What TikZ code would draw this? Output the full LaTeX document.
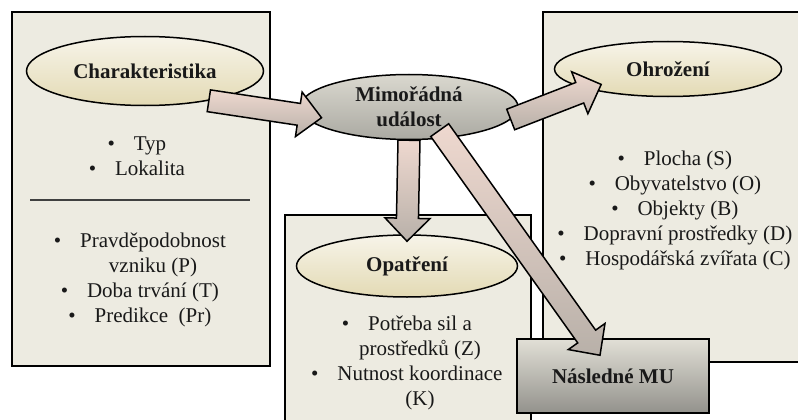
\documentclass[tikz,border=0pt]{standalone}
\usepackage{fontspec}
\setmainfont{Liberation Serif}
\usepackage{tikz}
\usetikzlibrary{calc,shapes.geometric,positioning}

\definecolor{paper}{HTML}{EDEBE1}
\definecolor{creamtop}{HTML}{F7F4E9}
\definecolor{creambot}{HTML}{E3DAB4}
\newcommand{\bul}{\llap{\textbullet\hspace{0.9em}}}
\newcommand{\blockarrow}[2]{%
  \coordinate (ba-s) at (#1);
  \coordinate (ba-t) at (#2);
  \coordinate (ba-h) at ($(ba-t)!23pt!(ba-s)$);
  \draw[barrow] ($(ba-s)!11pt!90:(ba-t)$) -- ($(ba-h)!11pt!-90:(ba-s)$)
    -- ($(ba-h)!22.5pt!-90:(ba-s)$) -- (ba-t) -- ($(ba-h)!22.5pt!90:(ba-s)$)
    -- ($(ba-h)!11pt!90:(ba-s)$) -- ($(ba-s)!11pt!-90:(ba-t)$) -- cycle;}

\begin{document}
\begin{tikzpicture}[x=1pt, y=-1pt, semithick,
    panel/.style={draw, line width=2pt, fill=paper},
    edge/.style={draw, line width=2pt, line cap=rect},
    txt/.style={align=center, text=black!90, font=\fontsize{21}{25}\selectfont},
    ell/.style={ellipse, draw, line width=1.5pt, inner sep=0pt, top color=creamtop, bottom color=creambot, text=black!90, font=\fontsize{21}{25}\selectfont\bfseries, align=center},
    barrow/.style={draw, line width=1.5pt, line join=miter, top color=red!8!paper, bottom color=red!10!black!25!paper}]

  \tikzstyle{mid}=[ell, top color=paper!92!black, bottom color=paper!72!black]
  \tikzstyle{boxed}=[rectangle, draw, line width=1.5pt, top color=paper!95!black, bottom color=paper!62!black, text=black!90, font=\fontsize{21}{25}\selectfont\bfseries]

  \useasboundingbox (0,0) rectangle (798,420);
  \draw[panel] (12,12) rectangle (270,366);
  \draw[line width=2pt, draw=black!75] (30,200) -- (250,200);
  \fill[paper] (285,215) rectangle (531,420);
  \draw[edge] (285,420) -- (285,215) -- (531,215) -- (531,420);
  \fill[paper] (543,12) rectangle (798,362);
  \draw[edge] (798,12) -- (543,12) -- (543,362) -- (798,362);

  \node[ell, minimum width=237pt, minimum height=69pt] (ch)  at (145,71)  {Charakteristika};
  \node[txt]                                           (chA) at (150,156) {\bul Typ\\ \bul Lokalita};
  \node[txt]                                           (chB) at (153,280) {\bul Pravděpodobnost\\ vzniku (P)\\ \bul Doba trvání (T)\\ \bul Predikce\ \ (Pr)};
  \node[mid, minimum width=218pt, minimum height=65pt] (mu)  at (409,107) {Mimořádná\\ událost};
  \node[ell, minimum width=227pt, minimum height=55pt] (oh)  at (668,69)  {Ohrožení};
  \node[txt]                                           (ohA) at (688,210) {\bul Plocha (S)\\ \bul Obyvatelstvo (O)\\ \bul Objekty (B)\\ \bul Dopravní prostředky (D)\\ \bul Hospodářská zvířata (C)};
  \node[ell, minimum width=221pt, minimum height=62pt] (op)  at (407,266) {Opatření};
  \node[txt]                                           (opA) at (420,363) {\bul Potřeba sil a\\ prostředků (Z)\\ \bul Nutnost koordinace\\ (K)};
  \node[boxed, minimum width=192pt, minimum height=74pt] (nm) at (613,376) {Následné MU};

  \blockarrow{ch.-25}{$(mu.center)!.86!(mu.187)$}
  \blockarrow{mu.-7}{$(oh.center)!.8!(oh.193)$}
  \blockarrow{mu.south}{$(op.north)+(0,7)$}
  \blockarrow{$(mu.center)!.75!(mu.-37)$}{$(nm.north)+(-13,17)$}
\end{tikzpicture}
\end{document}
